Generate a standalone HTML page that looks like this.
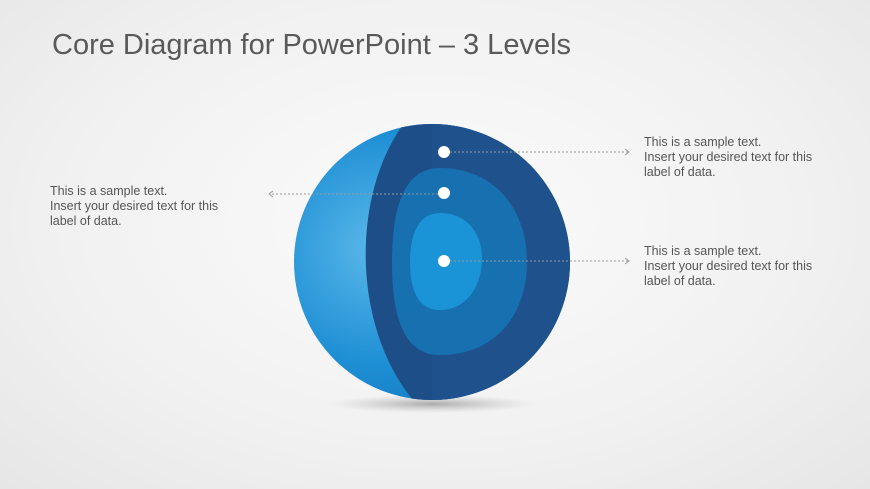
<!DOCTYPE html>
<html><head><style>
body{margin:0;width:870px;height:489px;overflow:hidden;background:radial-gradient(ellipse at 50% 45%,#fbfbfb 0%,#f1f1f1 60%,#e6e6e6 100%);font-family:"Liberation Sans",sans-serif;position:relative}
.t{position:absolute;left:52px;top:29px;font-size:29px;color:#595959}
.l{position:absolute;font-size:12.5px;line-height:15px;color:#555}
svg{position:absolute;left:0;top:0}
</style></head><body>
<svg width="870" height="489">
<defs>
<radialGradient id="g1" cx="0.3" cy="0.45" r="0.7"><stop offset="0" stop-color="#5ab8ea"/><stop offset="0.6" stop-color="#1e8fd4"/><stop offset="1" stop-color="#1576be"/></radialGradient>
<radialGradient id="sh" cx="0.5" cy="0.5" r="0.5"><stop offset="0" stop-color="#999" stop-opacity="0.8"/><stop offset="1" stop-color="#bbb" stop-opacity="0"/></radialGradient>
<clipPath id="c"><circle cx="432" cy="262" r="138"/></clipPath>
</defs>
<ellipse cx="432" cy="404" rx="105" ry="9" fill="url(#sh)"/>
<circle cx="432" cy="262" r="138" fill="url(#g1)"/>
<g clip-path="url(#c)">
<path d="M408 118 C350 190 350 330 418 406 L600 406 L600 118Z" fill="#1d4e88"/>
<path d="M432 118 L600 118 L600 406 L432 406Z" fill="#21558f" opacity="0.6"/>
<path d="M440 168 C495 168 527 210 527 262 C527 315 495 355 440 355 C405 355 392 320 392 262 C392 205 405 168 440 168Z" fill="#1770b0"/>
<path d="M440 213 C468 213 482 235 482 258 C482 288 465 310 440 310 C418 310 410 290 410 262 C410 235 418 213 440 213Z" fill="#1a94d6"/>
</g>
<g stroke="#999" stroke-width="1" stroke-dasharray="2,2" fill="none">
<line x1="450" y1="152" x2="628" y2="152"/>
<line x1="438" y1="194" x2="270" y2="194"/>
<line x1="450" y1="261" x2="628" y2="261"/>
</g>
<g stroke="#999" fill="none"><path d="M625 149 L629 152 L625 155"/><path d="M273 191 L269 194 L273 197"/><path d="M625 258 L629 261 L625 264"/></g>
<g fill="#fff"><circle cx="444" cy="152" r="6"/><circle cx="444" cy="193" r="6"/><circle cx="444" cy="261" r="6"/></g>
</svg>
<div class="t">Core Diagram for PowerPoint – 3 Levels</div>
<div class="l" style="left:50px;top:184px">This is a sample text.<br>Insert your desired text for this<br>label of data.</div>
<div class="l" style="left:644px;top:135px">This is a sample text.<br>Insert your desired text for this<br>label of data.</div>
<div class="l" style="left:644px;top:244px">This is a sample text.<br>Insert your desired text for this<br>label of data.</div>
</body></html>
